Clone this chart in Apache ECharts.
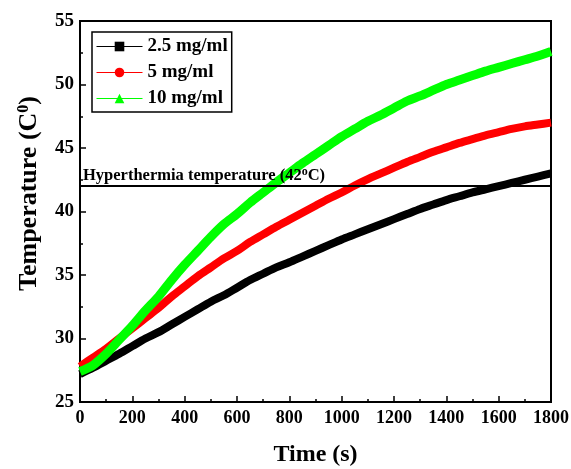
<!DOCTYPE html>
<html>
<head>
<meta charset="utf-8">
<script src="https://cdn.jsdelivr.net/npm/echarts@6/dist/echarts.min.js"></script>
<style>html,body{margin:0;padding:0;background:#fff;}#c{width:571px;height:469px;}</style>
</head>
<body>
<div id="c"></div>
<script>
// time points (s)
const times = [0,50,100,150,200,250,300,350,400,450,500,550,600,650,700,750,800,850,900,950,1000,1050,1100,1150,1200,1250,1300,1350,1400,1450,1500,1550,1600,1650,1700,1750,1800];
// 2.5 mg/ml
const conc25 = [27.2,27.7,28.25,28.8,29.4,30.0,30.5,31.1,31.7,32.3,32.9,33.4,34.0,34.6,35.1,35.6,36.0,36.45,36.9,37.35,37.8,38.2,38.6,39.0,39.4,39.8,40.2,40.55,40.9,41.2,41.5,41.75,42.0,42.25,42.5,42.75,43.0];
// 5 mg/ml
const conc5 = [27.8,28.5,29.2,30.0,30.8,31.6,32.4,33.3,34.1,34.9,35.6,36.3,36.9,37.6,38.2,38.8,39.35,39.9,40.45,41.0,41.5,42.05,42.55,43.0,43.45,43.9,44.3,44.7,45.05,45.4,45.7,46.0,46.25,46.5,46.7,46.85,47.0];
// 10 mg/ml
const conc10 = [27.4,27.9,28.8,29.9,31.0,32.2,33.3,34.6,35.8,36.9,38.0,39.0,39.8,40.7,41.5,42.3,43.05,43.8,44.5,45.2,45.9,46.5,47.1,47.6,48.15,48.7,49.1,49.55,50.0,50.35,50.7,51.05,51.35,51.65,51.95,52.25,52.6];
const seriesNames = ['2.5 mg/ml','5 mg/ml','10 mg/ml'];
const xTicks = {min:0, max:1800, interval:200};
const yTicks = {min:25, max:55, interval:5};
const hyperT = 42;

const FONT = '"Liberation Serif","Times New Roman",serif';
const pair = (vals) => times.map((t,i)=>[t, vals[i]]);

const chart = echarts.init(document.getElementById('c'), null, {renderer:'canvas'});
chart.setOption({
  backgroundColor:'#fff',
  animation:false,
  grid:{left:80, right:20, top:21, bottom:67, containLabel:false, outerBoundsMode:'none',
        show:true, borderColor:'#000', borderWidth:2, backgroundColor:'transparent'},
  legend:{
    orient:'vertical', left:92, top:32,
    itemWidth:46, itemHeight:12, itemGap:7,
    borderColor:'#000', borderWidth:1.5, padding:[5,4,4,4],
    backgroundColor:'#fff',
    lineStyle:{width:1},
    textStyle:{fontFamily:FONT, fontWeight:'bold', fontSize:19, color:'#000'},
    data:seriesNames
  },
  xAxis:{
    type:'value', min:xTicks.min, max:xTicks.max, interval:xTicks.interval,
    name:'Time (s)', nameLocation:'middle', nameGap:41,
    nameTextStyle:{fontFamily:FONT, fontWeight:'bold', fontSize:24, color:'#000'},
    axisLine:{lineStyle:{color:'#000', width:2}},
    axisTick:{inside:true, length:6, lineStyle:{width:1.5, color:'#000'}},
    minorTick:{show:true, splitNumber:2, length:3, lineStyle:{width:1.5, color:'#000'}},
    splitLine:{show:false},
    axisLabel:{fontFamily:FONT, fontWeight:'bold', fontSize:18, color:'#000', margin:7,
               formatter:(v)=>String(v)}
  },
  yAxis:{
    type:'value', min:yTicks.min, max:yTicks.max, interval:yTicks.interval,
    name:'{a|Temperature (C}{s|0}{a|)}', nameLocation:'middle', nameGap:38, nameRotate:90,
    nameTextStyle:{
      padding:[0,0,0,36],
      rich:{
        a:{fontFamily:FONT, fontWeight:'bold', fontSize:26, color:'#000'},
        s:{fontFamily:FONT, fontWeight:'bold', fontSize:16, color:'#000', verticalAlign:'top', padding:[0,0,9,0]}
      }
    },
    axisLine:{lineStyle:{color:'#000', width:2}},
    axisTick:{inside:true, length:6, lineStyle:{width:1.5, color:'#000'}},
    minorTick:{show:true, splitNumber:2, length:3, lineStyle:{width:1.5, color:'#000'}},
    splitLine:{show:false},
    axisLabel:{fontFamily:FONT, fontWeight:'bold', fontSize:19, color:'#000', margin:6}
  },
  series:[
    {name:seriesNames[0], type:'line', data:pair(conc25), symbol:'rect', symbolSize:10, showSymbol:false,
     smooth:0.3,
     lineStyle:{color:'#000', width:8}, itemStyle:{color:'#000'}, z:2,
     markLine:{
       silent:true, symbol:'none',
       lineStyle:{color:'#000', width:2, type:'solid'},
       label:{show:true, position:'insideStartTop', distance:[3,1],
         formatter:'{a|Hyperthermia temperature (42}{s|o}{a|C)}',
         rich:{
           a:{fontFamily:FONT, fontWeight:'bold', fontSize:16.5, color:'#000'},
           s:{fontFamily:FONT, fontWeight:'bold', fontSize:12, color:'#000', verticalAlign:'top', padding:[0,0,7,0]}
         }},
       data:[{yAxis:hyperT}]
     }},
    {name:seriesNames[1], type:'line', data:pair(conc5), symbol:'circle', symbolSize:12, showSymbol:false,
     smooth:0.3,
     lineStyle:{color:'#ff0000', width:8}, itemStyle:{color:'#ff0000'}, z:3},
    {name:seriesNames[2], type:'line', data:pair(conc10), symbol:'triangle', symbolSize:12, showSymbol:false,
     smooth:0.3,
     lineStyle:{color:'#00ff00', width:9}, itemStyle:{color:'#00ff00'}, z:4}
  ]
});
</script>
</body>
</html>
